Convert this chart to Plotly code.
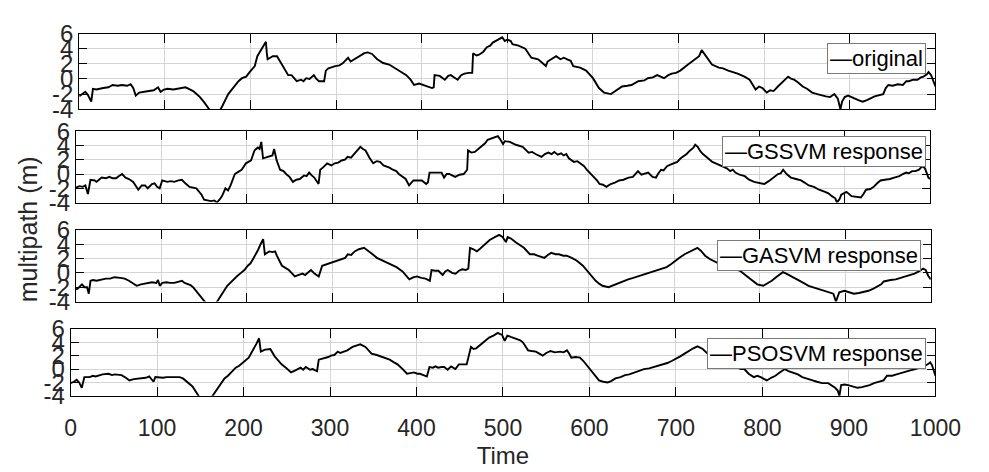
import plotly.graph_objects as go

# ---------------- data (time, multipath in m) ----------------
series_names = ["original", "GSSVM response", "GASVM response", "PSOSVM response"]
x_ticks = [0, 100, 200, 300, 400, 500, 600, 700, 800, 900, 1000]
y_ticks = [-4, -2, 0, 2, 4, 6]

original_pts = [
    (0,-2.3),(4,-2.0),(7,-1.7),(10,-2.1),(14,-3.0),(16,-1.3),(20,-1.4),(28,-1.2),(34,-1.1),(39,-0.8),
    (45,-0.9),(50,-0.8),(56,-0.9),(60,-0.7),(63,-1.2),(66,-2.2),(70,-1.8),(76,-1.7),(82,-1.6),(87,-1.5),
    (92,-1.1),(95,-1.7),(99,-1.4),(103,-1.3),(110,-1.4),(118,-1.2),(124,-1.1),(128,-1.3),(133,-1.6),(137,-2.0),
    (141,-2.4),(146,-3.1),(150,-3.7),(153,-4.1),(158,-5.0),(164,-4.2),(167,-3.6),(174,-2.0),(178,-1.4),(182,-0.8),
    (186,-0.3),(190,0.1),(195,0.3),(199,0.9),(205,1.7),(208,3.0),(211,3.6),(214,4.0),(218,4.9),(219,3.5),
    (220,2.6),(223,2.8),(226,3.0),(231,3.0),(234,2.4),(239,1.5),(244,0.5),(248,0.5),(254,-0.3),(259,-0.1),
    (262,-0.3),(265,0.1),(269,0.0),(274,0.5),(277,0.0),(280,-0.3),(286,-0.3),(288,1.1),(291,1.4),(299,1.7),
    (304,1.8),(308,2.1),(314,2.8),(317,2.3),(320,2.5),(325,2.8),(333,3.4),(337,3.5),(342,3.3),(348,2.6),
    (355,2.1),(362,1.9),(366,1.6),(370,1.3),(376,0.9),(382,0.5),(387,-0.1),(391,-0.8),(397,-0.6),(402,-0.8),
    (408,-1.0),(412,-1.2),(414,-1.1),(415,0.5),(421,0.4),(427,-0.1),(431,0.4),(434,0.5),(438,0.2),(442,-0.1),
    (446,0.5),(450,0.7),(455,0.8),(459,0.8),(460,3.4),(464,3.1),(467,3.2),(472,3.6),(476,4.2),(480,4.4),
    (483,4.8),(488,5.1),(494,5.5),(497,5.0),(500,5.2),(504,5.0),(506,4.6),(513,4.4),(521,4.0),(528,2.8),
    (536,2.6),(542,2.0),(545,1.7),(547,2.3),(552,2.6),(557,3.0),(562,2.6),(566,2.8),(570,2.6),(574,2.4),
    (577,1.7),(585,1.5),(592,1.1),(600,0.1),(607,-1.2),(613,-1.8),(621,-2.0),(626,-1.6),(634,-1.0),(640,-0.9),
    (645,-0.8),(653,-0.3),(660,-0.2),(664,0.1),(670,0.2),(675,0.5),(680,0.3),(683,0.1),(688,0.5),(692,0.7),
    (697,0.8),(702,1.1),(711,1.9),(716,2.3),(720,2.6),(724,3.0),(727,3.8),(732,3.0),(736,2.5),(739,1.9),
    (747,1.5),(752,1.4),(758,1.1),(764,0.9),(769,0.7),(777,0.3),(783,-0.1),(790,-1.4),(794,-1.0),(798,-1.2),
    (803,-1.8),(807,-1.5),(811,-1.6),(816,-1.0),(820,-0.6),(828,0.3),(832,0.0),(835,-0.1),(840,-0.5),(845,-1.0),
    (850,-1.3),(856,-1.8),(862,-2.0),(867,-2.2),(872,-2.3),(877,-2.4),(882,-2.0),(886,-2.6),(889,-4.0),(891,-3.0),
    (894,-2.4),(898,-2.2),(905,-2.6),(910,-2.8),(915,-3.0),(920,-2.8),(929,-2.3),(935,-2.1),(939,-2.0),(942,-1.2),
    (945,-0.8),(950,-0.9),(956,-0.7),(962,-0.8),(966,-0.3),(969,-0.3),(974,-0.1),(979,-0.1),(983,0.2),(986,0.3),
    (990,0.6),(992,0.9),(995,0.5),(998,-0.4),(1000,-1.0),
]

gssvm_pts = [
    (0,-1.9),(4,-1.7),(8,-1.8),(11,-1.6),(14,-2.8),(17,-0.8),(22,-0.9),(24,-1.1),(27,-0.8),(30,-0.5),
    (35,-0.6),(39,-0.4),(43,-0.6),(47,-0.6),(50,-0.3),(54,0.0),(58,-0.5),(62,-0.7),(67,-1.1),(70,-1.6),
    (73,-2.2),(77,-1.6),(81,-1.6),(84,-2.0),(86,-1.8),(89,-1.4),(92,-1.3),(95,-1.8),(98,-2.0),(101,-0.9),
    (104,-1.0),(107,-1.1),(111,-1.0),(115,-1.1),(120,-0.9),(124,-0.8),(128,-1.3),(133,-1.8),(141,-2.0),(147,-2.9),
    (150,-3.6),(154,-3.7),(158,-3.8),(162,-3.7),(165,-4.0),(168,-3.6),(171,-3.1),(175,-2.0),(178,-2.3),(181,-1.6),
    (186,0.0),(190,0.3),(194,0.6),(199,1.5),(205,1.9),(209,3.3),(213,3.7),(215,3.5),(217,4.5),(219,2.2),
    (224,2.4),(230,2.6),(232,3.5),(235,1.9),(239,0.6),(243,0.4),(246,0.0),(250,-0.4),(254,-1.1),(258,-0.8),
    (262,-0.7),(267,-0.2),(270,-0.3),(273,0.2),(276,-0.2),(279,-0.5),(284,-1.4),(286,0.6),(290,1.0),(294,1.5),
    (299,1.2),(303,1.5),(307,1.6),(311,1.9),(315,2.0),(318,2.4),(322,2.3),(326,2.8),(330,3.4),(333,3.8),
    (336,3.5),(339,3.3),(344,2.2),(348,1.5),(352,1.8),(356,1.7),(360,1.2),(363,1.1),(367,0.9),(371,0.6),
    (375,0.4),(378,0.0),(382,-0.3),(386,-0.7),(390,-1.6),(395,-0.9),(400,-0.9),(405,-0.9),(410,-1.4),(412,-1.2),
    (414,0.2),(419,0.2),(424,0.1),(428,0.2),(431,-0.5),(434,0.0),(437,0.0),(441,-0.2),(444,-0.4),(449,-0.1),
    (454,0.0),(458,0.6),(459,3.3),(463,3.0),(467,3.1),(471,3.5),(475,3.9),(479,4.3),(482,4.8),(487,5.0),
    (491,5.1),(494,5.3),(497,4.8),(500,4.2),(502,4.6),(505,4.6),(508,4.5),(515,4.1),(519,4.0),(523,3.8),
    (530,3.0),(534,3.1),(538,2.8),(542,2.6),(545,2.4),(549,2.8),(553,3.0),(557,2.8),(560,3.1),(564,2.7),
    (568,2.9),(571,2.6),(574,2.8),(577,2.2),(583,1.7),(587,1.8),(591,1.5),(595,1.1),(598,0.6),(602,0.1),
    (606,-0.3),(610,-0.9),(613,-1.4),(617,-1.5),(621,-1.8),(626,-1.4),(631,-1.2),(636,-0.9),(641,-0.8),(647,-0.5),
    (652,-0.4),(658,0.4),(662,-0.1),(666,0.0),(670,0.2),(675,-0.4),(679,-0.5),(682,0.1),(685,0.6),(688,0.5),
    (692,1.1),(696,1.3),(700,1.5),(704,1.7),(708,2.2),(712,2.5),(715,2.8),(719,3.3),(723,3.7),(725,4.1),
    (728,3.8),(731,3.2),(734,2.8),(740,2.2),(745,1.7),(751,1.4),(757,1.1),(762,0.8),(766,0.4),(769,0.6),
    (772,0.2),(777,-0.1),(783,-0.3),(788,-0.8),(794,-1.1),(800,-1.2),(806,-1.4),(811,-1.0),(817,-0.5),(822,0.0),
    (825,0.1),(828,0.6),(832,0.0),(837,-0.5),(843,-0.7),(849,-0.9),(853,-1.2),(858,-1.6),(864,-1.8),(870,-2.2),
    (877,-2.5),(881,-2.7),(885,-3.1),(889,-3.4),(891,-4.0),(894,-3.5),(896,-2.9),(902,-2.5),(908,-3.1),(913,-3.2),
    (919,-3.3),(922,-2.8),(925,-2.2),(930,-2.1),(934,-1.8),(938,-1.3),(942,-0.9),(947,-0.8),(953,-0.7),(958,-0.5),
    (964,-0.3),(968,0.0),(972,0.2),(975,0.1),(979,0.4),(983,0.4),(987,0.6),(991,1.1),(994,0.8),(998,-0.5),
    (1000,-0.7),
]

gasvm_pts = [
    (0,-2.3),(2,-2.2),(7,-1.6),(10,-2.0),(13,-2.0),(15,-2.9),(17,-1.1),(20,-1.0),(24,-1.1),(30,-0.9),
    (35,-0.8),(40,-0.8),(45,-0.6),(52,-0.7),(57,-0.8),(62,-1.1),(66,-1.4),(71,-1.8),(76,-1.6),(80,-1.5),
    (84,-1.5),(89,-1.3),(94,-1.4),(96,-1.0),(98,-1.8),(101,-1.4),(106,-1.3),(110,-1.4),(115,-1.4),(120,-1.2),
    (124,-1.1),(127,-1.4),(130,-1.5),(134,-1.7),(137,-2.0),(141,-2.6),(145,-3.3),(150,-4.0),(156,-4.8),(162,-4.6),
    (165,-4.0),(171,-2.9),(177,-1.8),(184,-0.9),(188,-0.5),(192,-0.1),(197,0.4),(201,1.0),(204,1.3),(207,1.9),
    (210,2.5),(213,3.2),(216,4.0),(219,4.7),(221,2.6),(226,3.0),(230,2.9),(233,3.0),(235,2.4),(238,1.6),
    (241,1.0),(245,0.7),(249,0.4),(253,-0.1),(256,-0.5),(260,-0.3),(265,-0.1),(268,-0.3),(272,0.1),(275,0.4),
    (279,-0.1),(284,-0.5),(288,1.0),(293,1.2),(299,1.5),(305,1.7),(311,1.9),(315,2.1),(318,2.6),(322,2.5),
    (326,3.0),(331,3.3),(337,3.5),(343,3.0),(347,2.6),(352,2.1),(357,1.8),(363,1.5),(369,1.1),(375,0.8),
    (382,0.2),(386,-0.3),(390,-0.9),(395,-0.6),(399,-0.5),(404,-0.7),(409,-0.8),(414,-1.1),(416,0.4),(420,0.3),
    (424,0.3),(429,-0.3),(432,0.2),(435,0.4),(440,0.0),(444,-0.1),(448,0.3),(452,0.5),(456,0.4),(459,0.6),
    (461,3.5),(465,3.3),(469,3.0),(473,3.4),(476,3.7),(480,4.2),(484,4.6),(490,5.0),(495,5.3),(499,5.0),
    (503,4.3),(505,5.0),(509,4.8),(514,4.3),(519,3.9),(524,3.5),(531,2.6),(536,2.6),(540,2.4),(548,2.1),
    (552,2.5),(556,2.8),(561,2.6),(565,2.6),(570,2.4),(574,2.4),(580,2.1),(586,1.7),(593,1.0),(597,0.4),
    (601,-0.1),(608,-1.1),(612,-1.5),(616,-1.8),(623,-2.0),(629,-1.7),(635,-1.4),(641,-1.2),(646,-0.9),(652,-0.7),
    (657,-0.5),(663,-0.3),(669,-0.1),(675,0.2),(680,0.4),(686,0.6),(691,0.8),(696,1.2),(701,1.7),(706,2.1),
    (712,2.6),(717,2.9),(721,3.2),(724,3.4),(727,3.5),(731,3.1),(736,2.4),(742,1.9),(748,1.5),(754,1.2),
    (759,1.0),(764,0.9),(768,0.8),(773,0.5),(778,0.2),(783,-0.3),(787,-0.7),(792,-1.1),(797,-1.6),(804,-1.8),
    (809,-1.5),(814,-1.1),(819,-0.6),(823,-0.3),(827,0.1),(831,-0.1),(836,-0.4),(841,-0.8),(846,-1.1),(851,-1.4),
    (857,-1.8),(862,-2.0),(868,-2.2),(874,-2.4),(880,-2.7),(886,-2.9),(889,-4.0),(891,-3.2),(893,-2.7),(899,-2.5),
    (905,-2.7),(910,-2.9),(916,-2.8),(921,-2.7),(927,-2.5),(933,-2.2),(938,-1.9),(942,-1.6),(945,-1.2),(948,-1.1),
    (953,-1.0),(959,-0.9),(965,-0.7),(970,-0.5),(976,-0.3),(981,-0.1),(986,0.2),(991,0.6),(994,0.4),(997,-0.4),
    (1000,-0.9),
]

psosvm_pts = [
    (0,-2.1),(4,-1.9),(7,-1.6),(10,-2.0),(13,-2.8),(16,-1.2),(22,-1.2),(26,-1.0),(29,-1.1),(33,-0.9),
    (37,-0.8),(44,-0.7),(48,-0.9),(51,-0.8),(55,-0.8),(59,-0.9),(64,-1.3),(68,-1.7),(73,-1.5),(78,-1.4),
    (83,-1.3),(87,-1.3),(91,-1.1),(94,-1.5),(96,-1.9),(98,-1.2),(103,-1.3),(107,-1.3),(111,-1.2),(115,-1.2),
    (119,-1.1),(122,-1.1),(126,-1.2),(130,-1.4),(135,-1.9),(141,-2.6),(148,-4.0),(155,-5.0),(160,-4.8),(164,-4.0),
    (171,-2.6),(178,-1.4),(182,-1.0),(186,-0.5),(191,0.2),(195,0.5),(199,0.9),(206,1.7),(209,2.4),(212,3.0),
    (215,3.8),(218,4.6),(220,2.6),(223,2.8),(225,2.9),(231,3.0),(233,2.5),(236,1.9),(240,1.3),(244,0.7),
    (249,0.2),(252,-0.1),(255,-0.5),(260,-0.2),(263,0.0),(266,0.2),(269,-0.1),(272,0.3),(277,-0.1),(280,0.0),
    (283,-0.2),(285,-0.3),(287,1.4),(290,1.5),(294,1.7),(298,1.8),(301,2.0),(305,2.1),(309,2.6),(312,2.4),
    (316,2.6),(320,2.8),(326,3.3),(331,3.5),(335,3.7),(341,3.3),(345,2.8),(348,2.3),(354,2.1),(359,1.9),
    (364,1.6),(369,1.4),(374,1.0),(378,0.7),(384,0.0),(389,-0.7),(393,-0.6),(397,-0.5),(401,-0.7),(404,-0.7),
    (408,-0.9),(412,-1.1),(415,0.3),(419,0.2),(422,0.4),(425,0.2),(429,0.3),(432,0.3),(436,-0.1),(440,0.4),
    (445,0.0),(449,0.7),(453,0.7),(458,0.7),(463,3.3),(466,3.0),(469,3.1),(473,3.5),(477,4.0),(481,4.3),
    (484,4.7),(489,5.0),(494,5.4),(497,5.2),(499,5.1),(502,4.2),(505,5.0),(509,4.8),(516,4.5),(520,4.3),
    (523,4.0),(526,3.4),(529,2.8),(533,2.7),(538,2.6),(542,2.3),(546,2.0),(550,2.4),(555,2.7),(560,2.5),
    (566,2.6),(570,2.5),(574,2.8),(577,2.2),(579,1.7),(584,1.8),(589,1.7),(593,1.2),(596,0.7),(600,0.1),
    (604,-0.5),(607,-1.0),(611,-1.7),(616,-1.9),(621,-2.0),(625,-1.8),(630,-1.4),(636,-1.2),(641,-0.9),(646,-0.8),
    (652,-0.5),(658,-0.3),(663,0.0),(669,0.1),(675,0.3),(680,0.5),(686,0.7),(690,0.9),(695,1.2),(700,1.5),
    (705,1.9),(710,2.3),(716,2.8),(720,3.1),(725,3.4),(728,3.2),(731,3.0),(735,2.5),(738,2.1),(743,1.9),
    (748,1.6),(755,1.2),(762,0.8),(770,0.2),(775,0.0),(779,0.0),(784,-0.7),(790,-1.2),(794,-1.0),(798,-1.2),
    (805,-1.7),(810,-1.3),(815,-1.0),(820,-0.5),(826,0.0),(830,-0.3),(835,-0.5),(841,-0.8),(846,-1.2),(852,-1.4),
    (858,-1.7),(863,-1.9),(869,-2.1),(876,-2.1),(880,-2.4),(884,-2.8),(887,-3.2),(889,-4.0),(891,-2.4),(895,-2.3),
    (899,-2.4),(905,-2.6),(910,-2.8),(915,-2.7),(919,-2.6),(924,-2.4),(929,-2.1),(935,-1.9),(940,-1.7),(944,-1.0),
    (950,-1.0),(955,-0.8),(960,-0.6),(966,-0.3),(971,-0.2),(977,0.0),(982,0.2),(988,0.5),(992,0.8),(994,1.0),
    (996,0.6),(999,-0.6),(1000,-1.0),
]

all_pts = [original_pts, gssvm_pts, gasvm_pts, psosvm_pts]

# ---------------- layout geometry (pixels in a 989x472 page) ----------------
W, H = 989, 472
# (left, right, top, bottom) of each panel in pixels
panels = [
    (75.7, 960.5, 20.7, 101.0),
    (72.3, 955.0, 124.3, 200.0),
    (72.3, 955.7, 229.0, 305.0),
    (66.7, 960.5, 334.0, 405.0),
]
# (right, top) of each legend box in pixels
legend_pos = [(951, 31), (950.7, 129.7), (946, 239.3), (950.7, 343.7)]

FONT = "Liberation Sans, Arial, Helvetica, sans-serif"
GRID = "#d4d4d4"
TICKCOL = "#262626"

fig = go.Figure()
layout = dict(
    width=W, height=H,
    margin=dict(l=0, r=0, t=0, b=0),
    paper_bgcolor="white", plot_bgcolor="white",
    font=dict(family=FONT, color=TICKCOL),
    showlegend=False,
)
annotations = []

for i, (pts, name) in enumerate(zip(all_pts, series_names)):
    k = "" if i == 0 else str(i + 1)
    t = [p[0] for p in pts]
    v = [p[1] for p in pts]
    fig.add_trace(go.Scatter(
        x=t, y=v, mode="lines", name=name,
        line=dict(color="black", width=1.9),
        xaxis=f"x{k}", yaxis=f"y{k}",
    ))
    l, r, top, bot = panels[i]
    last = (i == 3)
    layout[f"xaxis{k}"] = dict(
        domain=[l / W, r / W], anchor=f"y{k}", range=[0, 1000],
        tickmode="array", tickvals=x_ticks, ticktext=[str(x) for x in x_ticks],
        showticklabels=last, ticks="inside", ticklen=9, tickwidth=1, tickcolor="black",
        mirror="allticks", showline=True, linecolor="black", linewidth=1,
        showgrid=True, gridcolor=GRID, gridwidth=1, zeroline=False,
        tickfont=dict(family=FONT, size=23, color=TICKCOL),
    )
    if last:
        layout[f"xaxis{k}"]["ticklabelstandoff"] = 12
        layout[f"xaxis{k}"]["title"] = dict(
            text="Time", font=dict(family=FONT, size=24, color=TICKCOL), standoff=6)
    layout[f"yaxis{k}"] = dict(
        domain=[1 - bot / H, 1 - top / H], anchor=f"x{k}", range=[-4, 6],
        tickmode="array", tickvals=y_ticks, ticktext=[str(y) for y in y_ticks],
        ticks="inside", ticklen=8, tickwidth=1, tickcolor="black",
        mirror="allticks", showline=True, linecolor="black", linewidth=1,
        showgrid=True, gridcolor=GRID, gridwidth=1, zeroline=False,
        tickfont=dict(family=FONT, size=24, color=TICKCOL),
    )
    # legend box (line sample + series name) for this panel
    rx, ty = legend_pos[i]
    annotations.append(dict(
        text="\u2014" + name, x=rx / W, y=1 - ty / H, xref="paper", yref="paper",
        xanchor="right", yanchor="top", showarrow=False, align="left",
        bgcolor="white", bordercolor="#7a7a7a", borderwidth=1, borderpad=2,
        font=dict(family=FONT, size=22, color="black"),
    ))

annotations.append(dict(
    text="multipath (m)", x=23 / W, y=1 - 228 / H, xref="paper", yref="paper",
    textangle=-90, showarrow=False, xanchor="center", yanchor="middle",
    font=dict(family=FONT, size=25, color=TICKCOL),
))
layout["annotations"] = annotations

fig.update_layout(**layout)
fig.write_html("out.html")
